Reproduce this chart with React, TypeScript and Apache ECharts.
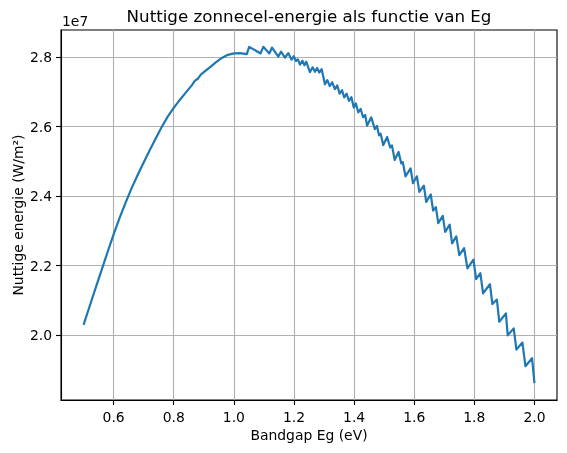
import * as echarts from "echarts";
import { useEffect, useRef } from "react";

// Bandgap (eV) at the line's vertices
const bandgap = [
  0.5, 0.52, 0.54, 0.56, 0.58, 0.6, 0.62, 0.64, 0.66, 0.68, 0.7, 0.72, 0.74,
  0.76, 0.78, 0.8, 0.82, 0.84, 0.86, 0.87, 0.88, 0.89, 0.9, 0.92, 0.94, 0.96,
  0.98, 1.0, 1.02, 1.043,
  1.051, 1.089, 1.098, 1.118, 1.127, 1.148, 1.157, 1.17, 1.181, 1.192, 1.199,
  1.207, 1.213, 1.22, 1.228, 1.235, 1.241, 1.253, 1.262, 1.27, 1.277, 1.284,
  1.292, 1.303, 1.311, 1.319, 1.327, 1.336, 1.344, 1.352, 1.36, 1.367, 1.375,
  1.383, 1.391, 1.399, 1.406, 1.414, 1.422, 1.43, 1.437, 1.443, 1.457, 1.469,
  1.476, 1.483, 1.488, 1.497, 1.51, 1.52, 1.526, 1.535, 1.548, 1.557, 1.562,
  1.571, 1.588, 1.596, 1.609, 1.617, 1.632, 1.64, 1.655, 1.663, 1.672, 1.68,
  1.695, 1.703, 1.718, 1.726, 1.74, 1.75, 1.766, 1.777, 1.797, 1.806, 1.82,
  1.829, 1.852, 1.86, 1.875, 1.883, 1.905, 1.911, 1.931, 1.94, 1.96, 1.97,
  1.992, 2.0,
];

// Useful energy, in units of 1e7 W/m²
const nuttigeEnergie = [
  2.029, 2.082, 2.135, 2.187, 2.239, 2.29, 2.337, 2.381, 2.423, 2.461, 2.497,
  2.532, 2.566, 2.599, 2.629, 2.654, 2.677, 2.698, 2.719, 2.732, 2.738, 2.75,
  2.757, 2.771, 2.785, 2.798, 2.807, 2.811, 2.812, 2.809,
  2.83, 2.811, 2.83, 2.811, 2.828, 2.802, 2.816, 2.799, 2.812, 2.793, 2.803,
  2.789, 2.794, 2.779, 2.79, 2.777, 2.787, 2.757, 2.771, 2.758, 2.769, 2.756,
  2.766, 2.722, 2.734, 2.717, 2.728, 2.708, 2.719, 2.695, 2.705, 2.684, 2.695,
  2.674, 2.685, 2.655, 2.667, 2.641, 2.651, 2.627, 2.634, 2.603, 2.627, 2.593,
  2.602, 2.575, 2.58, 2.547, 2.57, 2.54, 2.546, 2.504, 2.527, 2.494, 2.498,
  2.457, 2.48, 2.437, 2.457, 2.412, 2.43, 2.383, 2.405, 2.358, 2.368, 2.322,
  2.343, 2.297, 2.318, 2.264, 2.284, 2.23, 2.25, 2.192, 2.217, 2.161, 2.178,
  2.12, 2.146, 2.089, 2.102, 2.038, 2.062, 1.999, 2.019, 1.958, 1.978, 1.91,
  1.933, 1.861,
];

const xTicks = [0.6, 0.8, 1.0, 1.2, 1.4, 1.6, 1.8, 2.0];
const yTicks = [2.0, 2.2, 2.4, 2.6, 2.8];

const FONT = "DejaVu Sans";

export default function App() {
  const chartRef = useRef<HTMLDivElement>(null);

  useEffect(() => {
    const chart = echarts.init(chartRef.current!, null, { renderer: "svg" });
    const axisLine = { show: true, onZero: false, lineStyle: { color: "#000", width: 1.1 } };
    const tickStyle = { color: "#000", width: 1.1 };
    const labelStyle = { color: "#000", fontFamily: FONT, fontSize: 13.9 };
    const gridLine = { show: true, lineStyle: { color: "#b0b0b0", width: 1.1 } };

    chart.setOption({
      animation: false,
      grid: {
        left: 61,
        top: 30,
        right: 10,
        bottom: 53,
        show: true,
        borderColor: "#000",
        borderWidth: 1.1,
      },
      xAxis: {
        type: "value",
        min: 0.425,
        max: 2.075,
        axisLine,
        axisTick: { show: true, customValues: xTicks, length: 5, lineStyle: tickStyle },
        axisLabel: {
          ...labelStyle,
          customValues: xTicks,
          margin: 10,
          formatter: (v: number) => v.toFixed(1),
        },
        splitLine: gridLine,
      },
      yAxis: {
        type: "value",
        min: 1.8126,
        max: 2.8785,
        axisLine,
        axisTick: { show: true, customValues: yTicks, length: 5, lineStyle: tickStyle },
        axisLabel: {
          ...labelStyle,
          customValues: yTicks,
          margin: 9,
          formatter: (v: number) => v.toFixed(1),
        },
        splitLine: gridLine,
      },
      series: [
        {
          type: "line",
          data: bandgap.map((x, i) => [x, nuttigeEnergie[i]]),
          symbol: "none",
          lineStyle: { color: "#1f77b4", width: 2.2, join: "round" },
          itemStyle: { color: "#1f77b4" },
        },
      ],
      graphic: [
        {
          type: "text",
          x: 309,
          y: 16,
          style: {
            text: "Nuttige zonnecel-energie als functie van Eg",
            fontFamily: FONT,
            fontSize: 16.7,
            fill: "#000",
            align: "center",
            verticalAlign: "middle",
          },
        },
        {
          type: "text",
          x: 62,
          y: 21,
          style: {
            text: "1e7",
            fontFamily: FONT,
            fontSize: 13.9,
            fill: "#000",
            align: "left",
            verticalAlign: "middle",
          },
        },
        {
          type: "text",
          x: 309,
          y: 435,
          style: {
            text: "Bandgap Eg (eV)",
            fontFamily: FONT,
            fontSize: 13.9,
            fill: "#000",
            align: "center",
            verticalAlign: "middle",
          },
        },
        {
          type: "text",
          x: 18,
          y: 215,
          rotation: Math.PI / 2,
          style: {
            text: "Nuttige energie (W/m²)",
            fontFamily: FONT,
            fontSize: 13.9,
            fill: "#000",
            align: "center",
            verticalAlign: "middle",
          },
        },
      ],
    });
    return () => chart.dispose();
  }, []);

  return (
    <div
      ref={chartRef}
      style={{ position: "fixed", left: 0, top: 0, width: 567, height: 453 }}
    />
  );
}
